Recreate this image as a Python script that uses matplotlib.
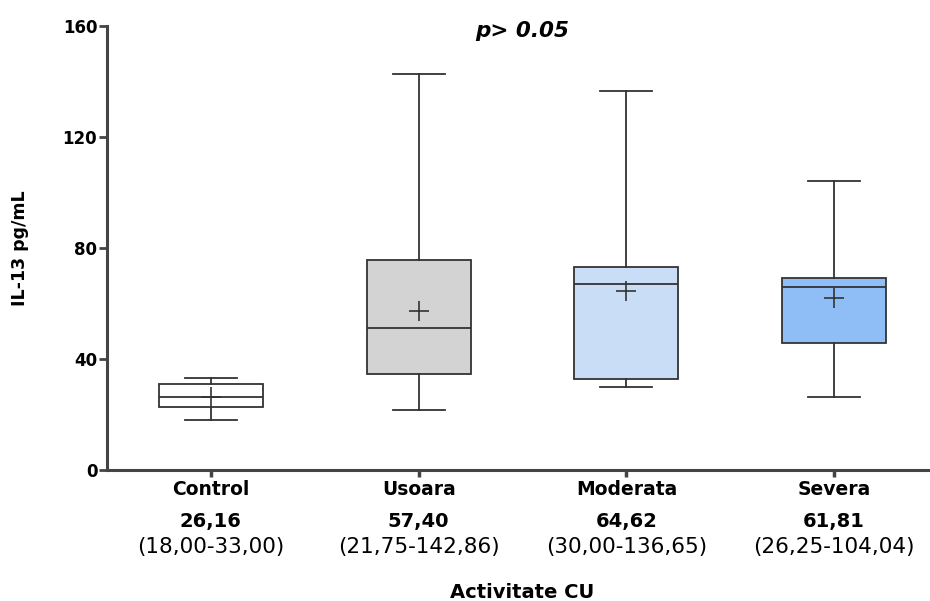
import matplotlib
matplotlib.use("Agg")
import matplotlib.pyplot as plt
import matplotlib.transforms as mtransforms

# values
groups = ["Control", "Usoara", "Moderata", "Severa"]
medians = [26.3, 51.2, 67.0, 65.8]
q1 = [22.6, 34.5, 32.9, 45.6]
q3 = [30.9, 75.8, 73.2, 69.1]
whis_low = [18.00, 21.75, 30.00, 26.25]
whis_high = [33.00, 142.86, 136.65, 104.04]
means = [26.16, 57.40, 64.62, 61.81]
mean_labels = ["26,16", "57,40", "64,62", "61,81"]
range_labels = ["(18,00-33,00)", "(21,75-142,86)", "(30,00-136,65)", "(26,25-104,04)"]
box_colors = ["#ffffff", "#d3d3d3", "#c9ddf6", "#8fbef7"]

stats = []
for i, g in enumerate(groups):
    stats.append(dict(label=g, med=medians[i], q1=q1[i], q3=q3[i],
                      whislo=whis_low[i], whishi=whis_high[i],
                      mean=means[i], fliers=[]))

fig = plt.figure(figsize=(9.3, 6.01), dpi=100)
ax = fig.add_axes([107 / 930, 1 - 470 / 601, 831 / 930, 444 / 601])

edge = "#333333"
pos = list(range(len(groups)))
bp = ax.bxp(stats, positions=pos, widths=0.5, capwidths=0.25,
            showmeans=True, showfliers=False, patch_artist=True,
            boxprops=dict(edgecolor=edge, linewidth=1.3),
            whiskerprops=dict(color=edge, linewidth=1.3),
            capprops=dict(color=edge, linewidth=1.3),
            medianprops=dict(color=edge, linewidth=1.3),
            meanprops=dict(marker="+", markersize=15, markeredgecolor=edge,
                           markeredgewidth=1.2, markerfacecolor=edge))
for patch, c in zip(bp["boxes"], box_colors):
    patch.set_facecolor(c)

ax.set_xlim(-0.5, 3.5)
ax.set_ylim(0, 160)
ax.set_yticks([0, 40, 80, 120, 160])
ax.set_xticks(pos)
ax.set_xticklabels(groups, fontsize=13.5, fontweight="bold")
for lab in ax.get_yticklabels():
    lab.set_fontsize(12)
    lab.set_fontweight("bold")

for s in ["top", "right"]:
    ax.spines[s].set_visible(False)
for s in ["left", "bottom"]:
    ax.spines[s].set_color("#444444")
    ax.spines[s].set_linewidth(2.2)
ax.tick_params(axis="y", length=6, width=2, color="#444444", pad=1)
ax.tick_params(axis="x", length=5, width=2.5, color="#444444", pad=2)

ax.text(0.5, (470 - 31) / 444, "p> 0.05", transform=ax.transAxes,
        ha="center", va="center", fontsize=15.5, fontweight="bold", style="italic")

trans = mtransforms.blended_transform_factory(ax.transData, fig.transFigure)
for i in pos:
    ax.text(i, 1 - 522 / 601, mean_labels[i], transform=trans, ha="center",
            va="center", fontsize=14, fontweight="bold")
    ax.text(i, 1 - 547 / 601, range_labels[i], transform=trans, ha="center",
            va="center", fontsize=15.5)

fig.text(522 / 930, 1 - 592 / 601, "Activitate CU", ha="center", va="center",
         fontsize=14, fontweight="bold")
fig.text(20 / 930, 1 - 248 / 601, "IL-13 pg/mL", ha="center", va="center",
         rotation=90, fontsize=12.5, fontweight="bold")

fig.savefig("out.png", dpi=100)
